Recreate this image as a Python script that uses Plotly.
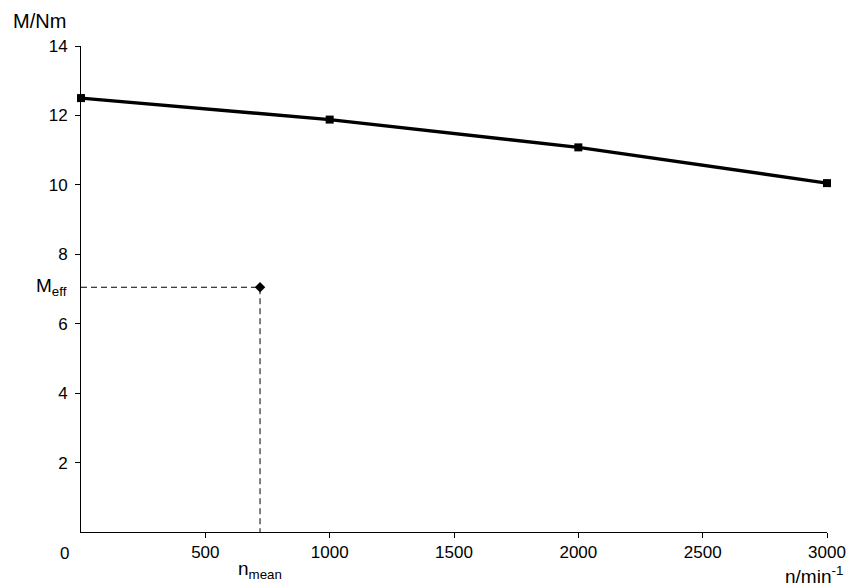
import plotly.graph_objects as go

# torque curve
n_rpm = [0, 1000, 2000, 3000]
torque_nm = [12.5, 11.88, 11.08, 10.05]

# effective operating point
n_mean = 720
m_eff = 7.05

x_ticks = [500, 1000, 1500, 2000, 2500, 3000]
y_ticks = [2, 4, 6, 8, 10, 12, 14]

FONT = "Liberation Sans, Arial, sans-serif"

fig = go.Figure()

fig.add_trace(go.Scatter(
    x=[0, n_mean, n_mean], y=[m_eff, m_eff, 0], mode="lines",
    line=dict(color="black", width=1, dash="6px,4px"),
    showlegend=False, hoverinfo="skip",
))
fig.add_trace(go.Scatter(
    x=[n_mean], y=[m_eff], mode="markers",
    marker=dict(symbol="diamond", size=8, color="black"),
    showlegend=False, cliponaxis=False,
))
fig.add_trace(go.Scatter(
    x=n_rpm, y=torque_nm, mode="lines+markers",
    line=dict(color="black", width=3.4),
    marker=dict(symbol="square", size=8, color="black"),
    showlegend=False, cliponaxis=False,
))

fig.update_xaxes(range=[0, 3000], tickvals=x_ticks, ticks="outside", ticklen=5,
                 tickcolor="black", showline=True, linecolor="black", linewidth=1,
                 showgrid=False, zeroline=False, automargin=False,
                 tickfont=dict(size=17, color="black"))
fig.update_yaxes(range=[0, 14], tickvals=y_ticks, ticks="outside", ticklen=5,
                 tickcolor="black", showline=True, linecolor="black", linewidth=1,
                 showgrid=False, zeroline=False, automargin=False,
                 tickfont=dict(size=17, color="black"), ticklabelstandoff=4)

ann = dict(showarrow=False, font=dict(family=FONT, size=19, color="black"))
fig.add_annotation(text="0", x=0, xref="x", y=0, yref="paper", xanchor="center",
                   yanchor="top", xshift=-17, yshift=-10,
                   **{**ann, "font": dict(family=FONT, size=17, color="black")})
fig.add_annotation(text="M<sub>eff</sub>", x=0, xref="x", y=m_eff, yref="y",
                   xanchor="right", yanchor="middle", xshift=-12, **ann)
fig.add_annotation(text="n<sub>mean</sub>", x=n_mean, xref="x", y=0, yref="paper",
                   xanchor="center", yanchor="top", yshift=-24, **ann)
fig.add_annotation(text="M/Nm", x=0, xref="paper", y=1, yref="paper",
                   xanchor="right", yanchor="bottom", xshift=-13, yshift=12,
                   **{**ann, "font": dict(family=FONT, size=20, color="black")})
fig.add_annotation(text="n/min<sup>-1</sup>", x=1, xref="paper", y=0, yref="paper",
                   xanchor="right", yanchor="top", xshift=18, yshift=-29, **ann)

fig.update_layout(
    width=849, height=586,
    margin=dict(l=81, r=22, t=46, b=54),
    plot_bgcolor="white", paper_bgcolor="white",
    font=dict(family=FONT, color="black"),
)

# drop the default 8px body margin so the figure sits flush in the window
fig.write_html(
    "out.html",
    config={"displayModeBar": False},
    post_script="document.body.style.margin='0';"
                "document.body.style.overflow='hidden';",
)
